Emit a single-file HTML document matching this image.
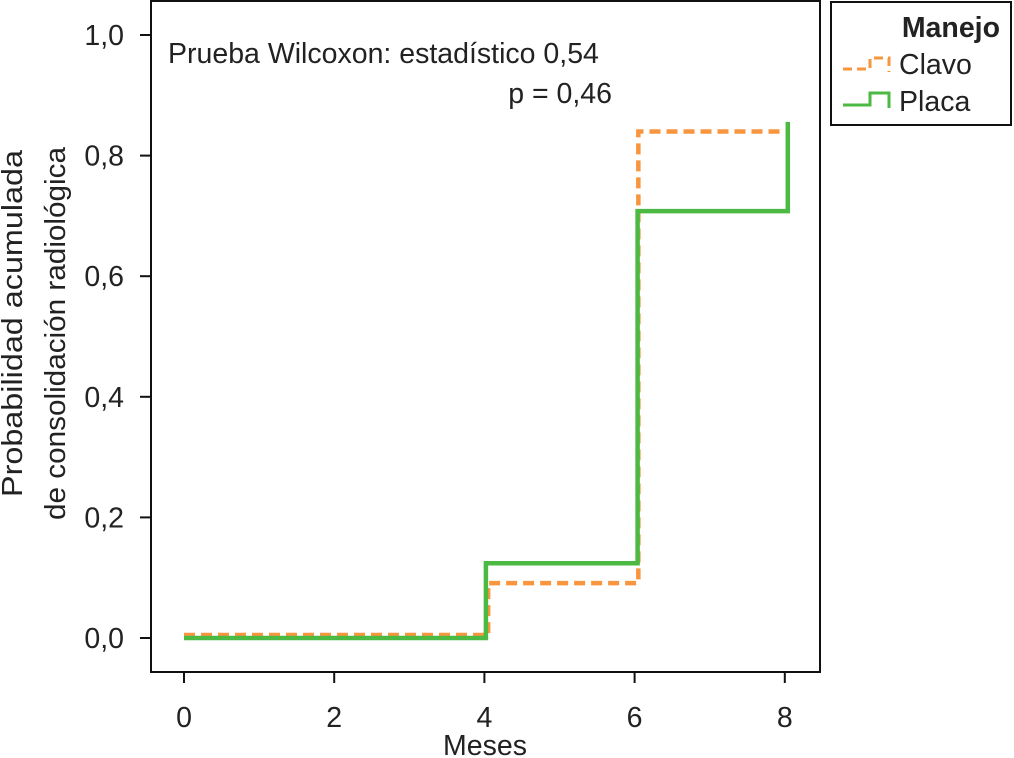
<!DOCTYPE html>
<html><head><meta charset="utf-8"><style>
html,body{margin:0;padding:0;background:#fff}
svg{display:block;font-family:"Liberation Sans",Arial,sans-serif}
</style></head><body>
<svg id="chart" width="1014" height="758" viewBox="0 0 1014 758">
<rect x="0" y="0" width="1014" height="758" fill="#fff"/>
<g id="plot"></g>
</svg>
<script>
const xTicks=[0,2,4,6,8];
const yTicks=[0,0.2,0.4,0.6,0.8,1.0];
const yTickLabels=["0,0","0,2","0,4","0,6","0,8","1,0"];
const clavoTimes=[0,4.05,6.05,8.05];
const clavoValues=[0.005,0.091,0.84,0.84];
const placaTimes=[0,4.02,6.04,8.04];
const placaValues=[0,0.124,0.708,0.856];

const NS="http://www.w3.org/2000/svg";
const g=document.getElementById('plot');
const L=151,R=820,T=1,B=672;
const FS=28.5;
const xs=v=>184+v*75.1;
const ys=v=>638-v*603;
function mk(tag,attrs,parent){const e=document.createElementNS(NS,tag);for(const k in attrs)e.setAttribute(k,attrs[k]);(parent||g).appendChild(e);return e;}

const frame=mk('rect',{x:L,y:T,width:R-L,height:B-T,fill:'none',stroke:'#111','stroke-width':2});



xTicks.forEach(v=>{
  const t=mk('line',{x1:xs(v),x2:xs(v),y1:B,y2:B+11,stroke:'#111','stroke-width':2});
  
  
  const l=mk('text',{x:xs(v),y:727,'text-anchor':'middle','font-size':FS,fill:'#222'});
  l.textContent=String(v);
  
  
});
yTicks.forEach((v,i)=>{
  const t=mk('line',{x1:L-11,x2:L,y1:ys(v),y2:ys(v),stroke:'#111','stroke-width':2});
  
  
  const l=mk('text',{x:124,y:ys(v)+10,'text-anchor':'end','font-size':FS,fill:'#222'});
  l.textContent=yTickLabels[i];
  
  
});

function stepPath(ts,vs){
  let d='M'+xs(ts[0])+','+ys(vs[0]);
  for(let i=1;i<ts.length;i++){d+=' H'+xs(ts[i])+' V'+ys(vs[i]);}
  return d;
}
const cl=mk('path',{d:stepPath(clavoTimes,clavoValues),fill:'none',stroke:'#f7963e','stroke-width':4.5,'stroke-dasharray':'11,6'});


const pl=mk('path',{d:stepPath(placaTimes,placaValues),fill:'none',stroke:'#4cba42','stroke-width':4.5});



const a1=mk('text',{x:168,y:63,'font-size':FS,fill:'#222'});a1.textContent='Prueba Wilcoxon: estadístico 0,54';


const a2=mk('text',{x:612,y:103,'font-size':FS,fill:'#222','text-anchor':'end'});a2.textContent='p = 0,46';



const xt=mk('text',{x:485,y:755,'text-anchor':'middle','font-size':FS,fill:'#222'});xt.textContent='Meses';


const yt=mk('text',{transform:'translate(22,0) rotate(-90)','font-size':FS,fill:'#222'});


const s1=mk('tspan',{x:-497,y:0,textLength:347,lengthAdjust:'spacingAndGlyphs'},yt);s1.textContent='Probabilidad acumulada';
const s2=mk('tspan',{x:-520,y:43,textLength:373,lengthAdjust:'spacingAndGlyphs'},yt);s2.textContent='de consolidación radiológica';

const lg=mk('g',{});


mk('rect',{x:831,y:2,width:180,height:123,fill:'none',stroke:'#111','stroke-width':2},lg);
const lt=mk('text',{x:1000,y:37,'text-anchor':'end','font-size':FS,'font-weight':'bold',fill:'#222'},lg);lt.textContent='Manejo';
mk('path',{d:'M843,69 H870 V58 H889 V72',fill:'none',stroke:'#f7963e','stroke-width':3,'stroke-dasharray':'9,5'},lg);
const c1=mk('text',{x:899,y:74,'font-size':FS,fill:'#222'},lg);c1.textContent='Clavo';


mk('path',{d:'M843,105 H870 V93 H889 V108',fill:'none',stroke:'#4cba42','stroke-width':3},lg);
const c2=mk('text',{x:899,y:111,'font-size':FS,fill:'#222'},lg);c2.textContent='Placa';


</script>
</body></html>
